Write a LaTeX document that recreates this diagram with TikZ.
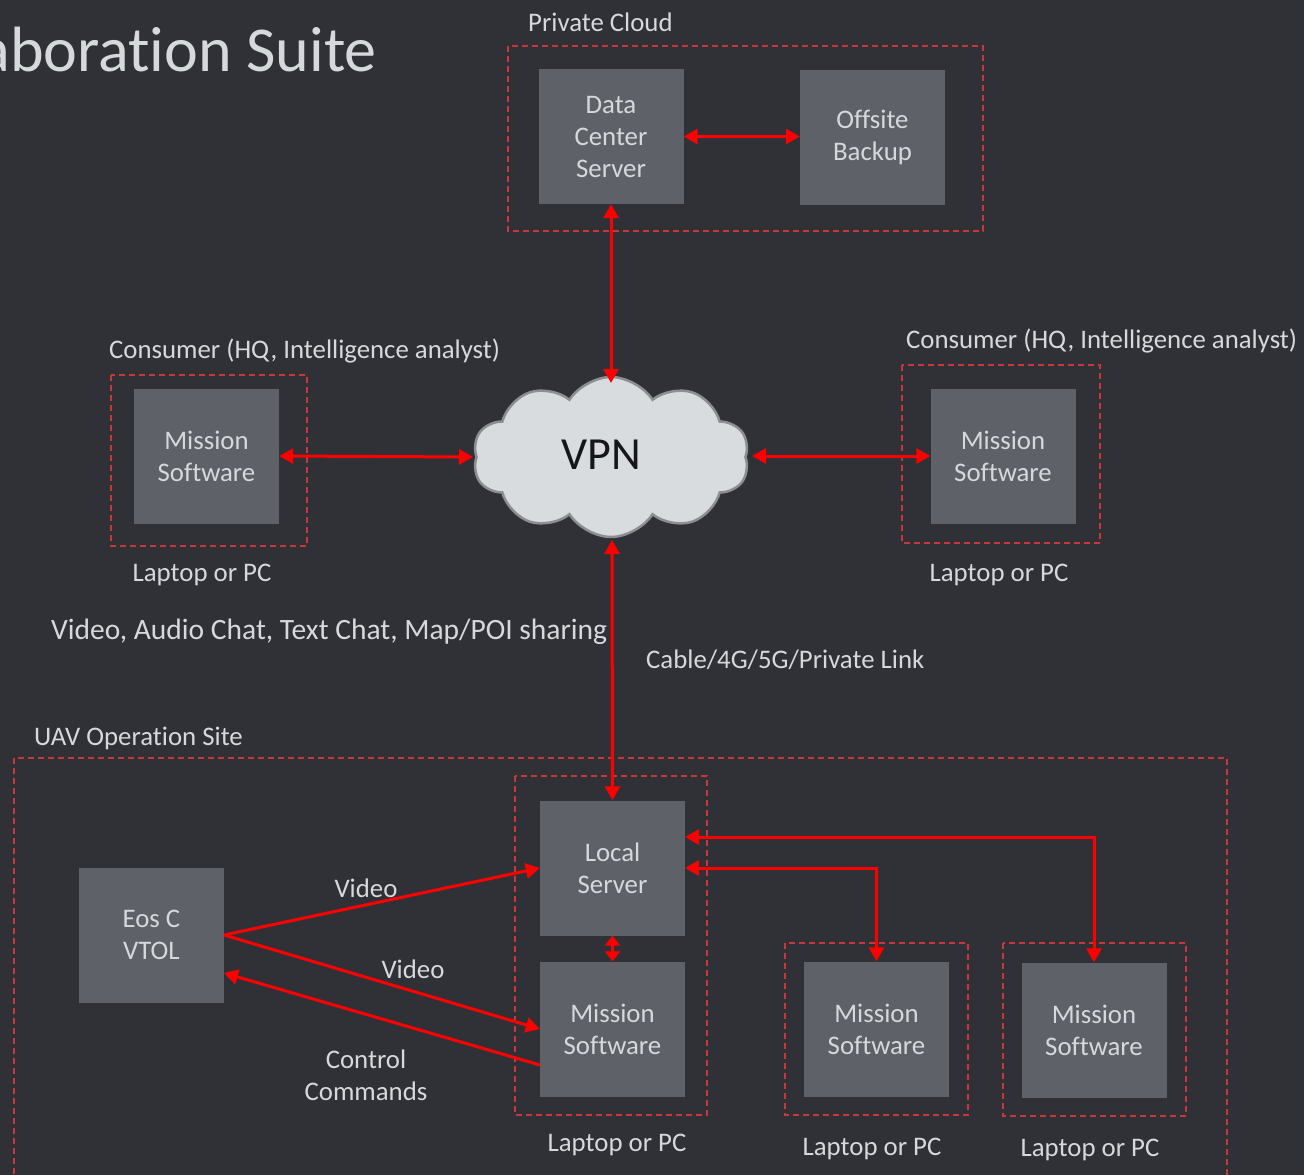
\documentclass[tikz,border=0pt]{standalone}
\usepackage{fontspec}
\setmainfont{Carlito}[Ligatures=NoCommon]
\usetikzlibrary{arrows.meta,shapes.symbols}
\definecolor{bg}{HTML}{303136}
\definecolor{boxgray}{HTML}{5F6168}
\definecolor{txt}{HTML}{D6D9DC}
\definecolor{dashred}{HTML}{C8383A}
\definecolor{cloudfill}{HTML}{D9DCDF}
\definecolor{cloudline}{HTML}{8C8E92}
\definecolor{vpntxt}{HTML}{15171A}
\tikzset{
  box/.style={fill=boxgray, text=txt, font=\fontsize{26.8}{32}\selectfont, align=center, inner sep=0pt, minimum width=145, minimum height=135},
  grp/.style={draw=dashred, dash pattern=on 6pt off 4pt, line width=1.5pt},
  arr/.style={draw=red, line width=3pt, {Triangle[length=14pt,width=15pt]}-{Triangle[length=14pt,width=15pt]}},
  arrshort/.style={draw=red, line width=3pt, {Triangle[length=10pt,width=15pt]}-{Triangle[length=10pt,width=15pt]}},
  arrone/.style={draw=red, line width=3pt, -{Triangle[length=14pt,width=15pt]}},
  lbl/.style={text=txt, font=\fontsize{26.8}{32}\selectfont, inner sep=0pt, align=center, yshift=-2pt}
}
\begin{document}
\begin{tikzpicture}[x=1pt,y=-1pt]
\useasboundingbox (0,0) rectangle (1304,1175);
\fill[bg] (0,0) rectangle (1304,1175);

% title
\node[text=txt, font=\fontsize{64}{76}\selectfont, anchor=base east, inner sep=0pt] (title) at (377,71) {aboration Suite};

% group frames
\draw[grp] (508,46) rectangle (983,231);
\draw[grp] (111,375) rectangle (307,546);
\draw[grp] (902,365) rectangle (1100,543);
\draw[grp] (14,758) rectangle (1227,1200);
\draw[grp] (515,776) rectangle (707,1115);
\draw[grp] (785,943) rectangle (968,1115);
\draw[grp] (1003,943) rectangle (1186,1116);

% group labels
\node[lbl, anchor=west] (lpc) at (528,20) {Private Cloud};
\node[lbl, anchor=west] (lc1) at (109,349) {Consumer (HQ, Intelligence analyst)};
\node[lbl, anchor=west] (lc2) at (906,339) {Consumer (HQ, Intelligence analyst)};
\node[lbl, anchor=west] (luav) at (34,736) {UAV Operation Site};
\node[lbl] (lp1) at (202,573) {Laptop or PC};
\node[lbl] (lp2) at (999,573) {Laptop or PC};
\node[lbl] (lp3) at (617,1143) {Laptop or PC};
\node[lbl] (lp4) at (872,1147) {Laptop or PC};
\node[lbl] (lp5) at (1090,1148) {Laptop or PC};
\node[lbl, anchor=west, font=\fontsize{29.5}{35}\selectfont] (lvid) at (51,630) {Video, Audio Chat, Text Chat, Map/POI sharing};
\node[lbl, anchor=west] (lcab) at (646,658) {Cable/4G/5G/Private Link};

% boxes
\node[box] (dcs) at (611,136.5) {Data\\Center\\Server};
\node[box] (ob) at (872.5,137.5) {Offsite\\Backup};
\node[box] (ms1) at (206.5,456) {Mission\\Software};
\node[box] (ms2) at (1003,456) {Mission\\Software};
\node[box] (ls) at (612.5,868) {Local\\Server};
\node[box] (ms0) at (612.5,1029) {Mission\\Software};
\node[box] (eos) at (151.5,935) {Eos C\\VTOL};
\node[box] (ms3) at (876.5,1029) {Mission\\Software};
\node[box] (ms4) at (1094,1030) {Mission\\Software};

% cloud
\node[cloud, cloud puffs=10, cloud puff arc=115, aspect=1.75, draw=cloudline, line width=2.5pt, fill=cloudfill, minimum width=276, minimum height=160, inner sep=0pt] (vpn) at (611,457) {};
\node[text=vpntxt, font=\fontsize{46}{54}\selectfont, inner sep=0pt] (vpnt) at (601,455) {VPN};

% connectors
\draw[arr] (dcs.east) -- (ob.west |- dcs.east);
\coordinate (vt) at (611,383);
\draw[arr] (dcs.south) -- (vt);
\coordinate (vl) at (473,457);
\coordinate (vr) at (752,456);
\coordinate (vb) at (612,540);
\draw[arr] (ms1.east) -- (vl);
\draw[arr] (vr) -- (ms2.west);
\draw[arr] (vb) -- (ls.north);
\draw[arrshort] (ls.south) -- (ms0.north);

\coordinate (eosout) at (224,935);
\draw[arrone] (eosout) -- (ls.west);
\draw[arrone] (eosout) -- (ms0.west);
\coordinate (ccstart) at (540,1065);
\coordinate (ccend) at (224,973);
\draw[arrone] (ccstart) -- (ccend);
\node[lbl] (lv1) at (366,886) {Video};
\node[lbl] (lv2) at (413,967) {Video};
\node[lbl] (lcc) at (366,1073) {Control\\Commands};

\coordinate (lsr1) at (685,837);
\coordinate (lsr2) at (685,868);
\draw[arr] (lsr2) -| (ms3.north);
\draw[arr] (lsr1) -| (ms4.north);
\end{tikzpicture}
\end{document}
